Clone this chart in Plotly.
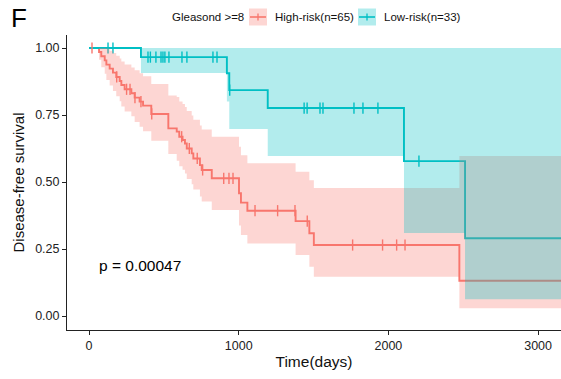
import numpy as np
import plotly.graph_objects as go

# ---------------- data ----------------
follow_up_end = 3200  # last follow-up (curves run to the right edge)

high_time = [0, 67, 82, 105, 116, 138, 160, 182, 205, 216, 238, 283, 305, 338, 361, 416,
             530, 586, 603, 625, 641, 653, 686, 697, 741, 753, 820, 1002, 1015, 1058,
             1380, 1472, 1502, 2474]
high_surv = [1.0, 0.985, 0.969, 0.954, 0.938, 0.923, 0.908, 0.892, 0.877, 0.862, 0.846,
             0.831, 0.815, 0.800, 0.785, 0.754, 0.700, 0.688, 0.669, 0.657, 0.644, 0.625,
             0.607, 0.588, 0.563, 0.545, 0.514, 0.458, 0.423, 0.393, 0.354, 0.309, 0.265, 0.132]
high_lower = [1.0, 0.956, 0.928, 0.904, 0.881, 0.860, 0.840, 0.820, 0.801, 0.782, 0.763,
              0.745, 0.724, 0.706, 0.689, 0.654, 0.605, 0.579, 0.559, 0.546, 0.532, 0.511,
              0.492, 0.472, 0.446, 0.427, 0.396, 0.338, 0.302, 0.271, 0.228, 0.184, 0.147, 0.029]
high_upper = [1.0, 1.0, 1.0, 1.0, 0.998, 0.990, 0.981, 0.971, 0.961, 0.950, 0.938,
              0.927, 0.917, 0.906, 0.895, 0.866, 0.823, 0.817, 0.800, 0.791, 0.780, 0.765,
              0.748, 0.732, 0.711, 0.696, 0.669, 0.632, 0.600, 0.570, 0.538, 0.507, 0.478, 0.597]
high_censor = [20, 185, 251, 274, 307, 347, 419, 619, 670, 723, 759, 900, 935, 962,
               1109, 1260, 1376, 1458, 1761, 1961, 2055, 2111]

low_time = [0, 347, 921, 937, 1194, 2104, 2512]
low_surv = [1.0, 0.966, 0.906, 0.843, 0.776, 0.578, 0.290]
low_lower = [1.0, 0.907, 0.800, 0.698, 0.597, 0.310, 0.063]
low_upper = [1.0, 1.0, 1.0, 1.0, 1.0, 1.0, 1.0]
low_censor = [127, 160, 394, 410, 447, 481, 494, 507, 534, 621, 654, 828, 855, 940,
              1437, 1457, 1543, 1563, 1770, 1830, 1930, 2204]

group_names = ["High-risk(n=65)", "Low-risk(n=33)"]
legend_title = "Gleasond >=8"
p_text = "p = 0.00047"
x_ticks = [0, 1000, 2000, 3000]
y_ticks = [0.0, 0.25, 0.5, 0.75, 1.0]

RED = "#F8766D"
CYAN = "#00BFC4"
RED_FILL = "rgba(248,118,109,0.3)"
CYAN_FILL = "rgba(0,191,196,0.3)"
FONT = "Liberation Sans, Arial, sans-serif"


def extend(t, v):
    return list(t) + [follow_up_end], list(v) + [v[-1]]


def censor_y(times, surv, cens):
    idx = np.searchsorted(np.array(times), np.array(cens), side="right") - 1
    return [surv[i] for i in idx]


fig = go.Figure()

# step lines
for t, s, col in [(high_time, high_surv, RED), (low_time, low_surv, CYAN)]:
    x, y = extend(t, s)
    fig.add_trace(go.Scatter(x=x, y=y, mode="lines", line=dict(color=col, width=1.9, shape="hv"),
                             showlegend=False, hoverinfo="skip"))

# censor marks
for t, s, c, col in [(high_time, high_surv, high_censor, RED), (low_time, low_surv, low_censor, CYAN)]:
    fig.add_trace(go.Scatter(x=c, y=censor_y(t, s, c), mode="markers",
                             marker=dict(symbol="line-ns", size=8, line=dict(color=col, width=1.4)),
                             showlegend=False, hoverinfo="skip"))

# confidence bands
for t, lo, hi, fc in [(high_time, high_lower, high_upper, RED_FILL),
                      (low_time, low_lower, low_upper, CYAN_FILL)]:
    xl, yl = extend(t, lo)
    xh, yh = extend(t, hi)
    fig.add_trace(go.Scatter(x=xl, y=yl, mode="lines", line=dict(width=0, shape="hv"),
                             showlegend=False, hoverinfo="skip"))
    fig.add_trace(go.Scatter(x=xh, y=yh, mode="lines", line=dict(width=0, shape="hv"),
                             fill="tonexty", fillcolor=fc, showlegend=False, hoverinfo="skip"))

# ---------------- manual legend (ggplot style) ----------------
W, H = 561, 379
L, R, T, B = 67, 0, 35, 49
pw, ph = W - L - R, H - T - B


def px(xp):
    return (xp - L) / pw


def py(yp):
    return (H - B - yp) / ph


shapes = []
annotations = []
annotations.append(dict(x=px(170), y=py(17), xref="paper", yref="paper", text=legend_title,
                        showarrow=False, xanchor="left", yanchor="middle",
                        font=dict(family=FONT, size=11.5, color="#111")))
for (bx, lx), name, col, fc in [((249, 273), group_names[0], RED, RED_FILL),
                                ((358, 382), group_names[1], CYAN, CYAN_FILL)]:
    shapes.append(dict(type="rect", xref="paper", yref="paper", x0=px(bx), x1=px(bx + 18),
                       y0=py(25.5), y1=py(8.5), fillcolor=fc, line=dict(width=0), layer="above"))
    shapes.append(dict(type="line", xref="paper", yref="paper", x0=px(bx + 1), x1=px(bx + 17),
                       y0=py(17), y1=py(17), line=dict(color=col, width=1.6), layer="above"))
    shapes.append(dict(type="line", xref="paper", yref="paper", x0=px(bx + 9), x1=px(bx + 9),
                       y0=py(13.5), y1=py(20.5), line=dict(color=col, width=1.3), layer="above"))
    annotations.append(dict(x=px(lx), y=py(17), xref="paper", yref="paper", text=name,
                            showarrow=False, xanchor="left", yanchor="middle",
                            font=dict(family=FONT, size=11.5, color="#111")))

annotations.append(dict(x=px(9), y=py(18), xref="paper", yref="paper", text="F",
                        showarrow=False, xanchor="left", yanchor="middle",
                        font=dict(family=FONT, size=26, color="#000")))
annotations.append(dict(x=53, y=0.187, xref="x", yref="y", text=p_text, showarrow=False,
                        xanchor="left", yanchor="middle",
                        font=dict(family=FONT, size=15.5, color="#000")))

fig.update_layout(
    width=W, height=H,
    margin=dict(l=L, r=R, t=T, b=B),
    paper_bgcolor="white", plot_bgcolor="white",
    shapes=shapes, annotations=annotations,
    font=dict(family=FONT, color="#222"),
    xaxis=dict(range=[-147, 3153], tickvals=x_ticks, ticktext=[str(v) for v in x_ticks],
               showgrid=False, zeroline=False, showline=True, linecolor="#222", linewidth=1,
               ticks="outside", ticklen=4, tickcolor="#222", tickfont=dict(size=12.5, color="#222"),
               title=dict(text="Time(days)", font=dict(size=15.5, color="#111"), standoff=4)),
    yaxis=dict(range=[-0.052, 1.0485], tickvals=y_ticks, ticktext=[f"{v:.2f}" for v in y_ticks],
               showgrid=False, zeroline=False, showline=True, linecolor="#222", linewidth=1,
               ticks="outside", ticklen=4, tickcolor="#222", tickfont=dict(size=12.5, color="#222"),
               title=dict(text="Disease-free survival", font=dict(size=15, color="#111"), standoff=6)),
)

fig.write_html("out.html")
